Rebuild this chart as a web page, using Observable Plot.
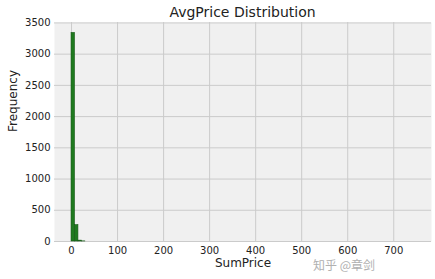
<!DOCTYPE html>
<html>
<head>
<meta charset="utf-8">
<script src="https://cdn.jsdelivr.net/npm/d3@7"></script>
<script src="https://cdn.jsdelivr.net/npm/@observablehq/plot@0.6"></script>
<style>
  html, body { margin: 0; padding: 0; background: #fff; }
  #wrap { position: relative; width: 435px; height: 279px; font-family: "DejaVu Sans", sans-serif; }
  #title { position: absolute; left: 54px; width: 377px; top: 4px; text-align: center; font-size: 14px; color: #222; }
  #wm { position: absolute; left: 313px; top: 258px; font-size: 12px; line-height: 13px; color: #b0b0b0; font-family: "Noto Sans CJK SC", sans-serif; }
  svg { position: absolute; left: 0; top: 0; }
</style>
</head>
<body>
<div id="wrap">
  <div id="title">AvgPrice Distribution</div>
  <div id="wm">知乎 @章剑</div>
</div>
<script>
// Histogram bins (SumPrice) and counts
const binLo = [0, 7.5, 15, 22.5];
const binHi = [7.5, 15, 22.5, 30];
const counts = [3340, 262, 14, 2];
const xTicks = [0, 100, 200, 300, 400, 500, 600, 700];
const yTicks = [0, 500, 1000, 1500, 2000, 2500, 3000, 3500];

const data = counts.map((c, i) => ({x1: binLo[i], x2: binHi[i], y: c}));

const chart = Plot.plot({
  width: 435,
  height: 279,
  marginLeft: 54,
  marginRight: 4,
  marginTop: 22,
  marginBottom: 38,
  style: {fontFamily: "DejaVu Sans, sans-serif", fontSize: "10px", color: "#222", background: "transparent"},
  x: {domain: [-37, 782]},
  y: {domain: [0, 3507]},
  marks: [
    Plot.frame({fill: "#f0f0f0", stroke: null}),
    Plot.gridX(xTicks, {stroke: "#cbcbcb", strokeOpacity: 1, strokeWidth: 1}),
    Plot.gridY(yTicks, {stroke: "#cbcbcb", strokeOpacity: 1, strokeWidth: 1}),
    Plot.rectY(data, {x1: "x1", x2: "x2", y: "y", fill: "#1f7a1f", stroke: "#155815", strokeWidth: 0.6}),
    Plot.axisX(xTicks, {tickSize: 0, tickPadding: 5, label: null, fontSize: 10, tickFormat: d3.format("d")}),
    Plot.axisY(yTicks, {tickSize: 0, tickPadding: 4, label: null, fontSize: 10, tickFormat: d3.format("d")}),
    Plot.text(["SumPrice"], {frameAnchor: "bottom", dy: 25, fontSize: 12, fill: "#222"}),
    Plot.text(["Frequency"], {frameAnchor: "left", dx: -41, rotate: -90, fontSize: 12, fill: "#222"})
  ]
});
document.getElementById("wrap").appendChild(chart);
</script>
</body>
</html>
